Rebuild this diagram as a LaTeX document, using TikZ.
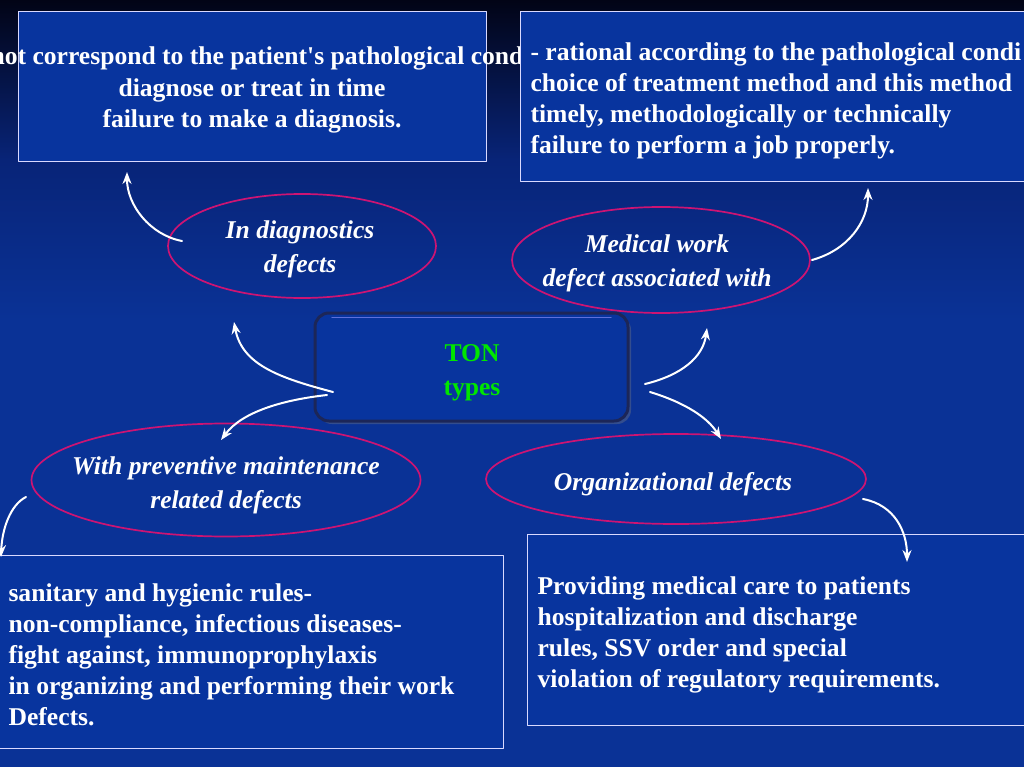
\documentclass[tikz,border=0pt]{standalone}
\usepackage{fontspec}
\setmainfont{Liberation Serif}
\usetikzlibrary{arrows.meta,shapes.geometric,shadows}

\definecolor{navy}{RGB}{2,4,22}
\definecolor{deepblue}{RGB}{8,36,120}
\definecolor{slideblue}{RGB}{10,50,150}
\definecolor{boxblue}{RGB}{8,52,158}
\definecolor{rimred}{RGB}{205,20,115}
\definecolor{rimdark}{RGB}{28,38,88}
\definecolor{tongreen}{RGB}{0,230,0}

\tikzset{
  txtbox/.style={draw=white!85!blue,line width=1pt,fill=boxblue,inner sep=0pt,anchor=north west},
  defect/.style={ellipse,draw=rimred,line width=1.7pt,inner sep=0pt},
  defecttext/.style={align=center,font=\fontsize{25.6}{34}\selectfont\bfseries\itshape},
  conn/.style={->,white,line width=2pt},
}

\begin{document}
\begin{tikzpicture}[x=1pt,y=-1pt,>={Stealth[length=12pt,width=9pt]},line cap=round,line join=round,
  font=\fontsize{25.6}{31}\selectfont\bfseries,text=white]
\useasboundingbox (0,0) rectangle (1024,767);
\shade[top color=navy,bottom color=deepblue] (0,0) rectangle (1024,160);
\shade[top color=deepblue,bottom color=slideblue] (0,160) rectangle (1024,320);
\fill[slideblue] (0,320) rectangle (1024,767);

% text boxes (base anchor = last line)
\node[txtbox,minimum width=468,minimum height=150] (tlbox) at (18,11) {};
\node[anchor=base east] (tlfirst) at (527,65) {not correspond to the patient\textquotesingle s pathological cond};
\node[anchor=base,align=center] (tltext) at (252,128) {diagnose or treat in time\\failure to make a diagnosis.};
\node[txtbox,minimum width=515,minimum height=170] (trbox) at (520,11) {};
\node[anchor=base west,align=left] (trtext) at (527,154) {- rational according to the pathological condi\\choice of treatment method and this method\\timely, methodologically or technically\\failure to perform a job properly.};
\node[txtbox,minimum width=510,minimum height=193] (blbox) at (-7,555) {};
\node[anchor=base west,align=left] (bltext) at (5,725) {sanitary and hygienic rules-\\non-compliance, infectious diseases-\\fight against, immunoprophylaxis\\in organizing and performing their work\\Defects.};
\node[txtbox,minimum width=510,minimum height=191] (brbox) at (527,534) {};
\node[anchor=base west,align=left] (brtext) at (534,687) {Providing medical care to patients\\hospitalization and discharge\\rules, SSV order and special\\violation of regulatory requirements.};

% defect ellipses
\node[defect,minimum width=268,minimum height=104] (diag) at (302,246) {};
\node[defecttext] (diagtxt) at (300,249) {In diagnostics\\defects};
\node[defect,minimum width=298,minimum height=106] (work) at (661,260) {};
\node[defecttext] (worktxt) at (657,263) {Medical work\\defect associated with};
\node[defect,minimum width=389,minimum height=113] (prev) at (226,480) {};
\node[defecttext] (prevtxt) at (226,485) {With preventive maintenance\\related defects};
\node[defect,minimum width=380,minimum height=90] (org) at (676,479) {};
\node[defecttext] (orgtxt) at (673,484) {Organizational defects};

% centre
\node[rounded corners=14pt,draw=rimdark,line width=3pt,fill=boxblue,minimum width=313,minimum height=108,
  drop shadow={opacity=0.35,shadow xshift=3pt,shadow yshift=-3pt}] (ton) at (471.5,367) {};
\draw[blue!40!white,line width=1.2pt,opacity=0.6] (332,317.5) -- (611,317.5);
\node[align=center,text=tongreen,font=\fontsize{25.6}{34}\selectfont\bfseries] (tontxt) at (472,373) {TON\\types};

% connector ends
\coordinate (d1) at (182,241);
\coordinate (d2) at (127,172);
\coordinate (w1) at (812,260);
\coordinate (w2) at (868,188);
\coordinate (c1) at (333,392);
\coordinate (c2) at (234,322);
\coordinate (c3) at (327,395);
\coordinate (c4) at (221,440);
\coordinate (c5) at (645,384);
\coordinate (c6) at (707,328);
\coordinate (c7) at (650,392);
\coordinate (c8) at (721,439);
\coordinate (o1) at (863,499);
\coordinate (o2) at (907,562);
\coordinate (p1) at (26,497);
\coordinate (p2) at (1,557);

\draw[conn] (d1) .. controls (150,235) and (127,205) .. (d2);
\draw[conn] (w1) .. controls (848,250) and (868,222) .. (w2);
\draw[conn] (c1) .. controls (280,378) and (242,365) .. (c2);
\draw[conn] (c3) .. controls (282,400) and (242,412) .. (c4);
\draw[conn] (c5) .. controls (682,375) and (703,357) .. (c6);
\draw[conn] (c7) .. controls (686,403) and (708,418) .. (c8);
\draw[conn] (o1) .. controls (895,505) and (907,532) .. (o2);
\draw[conn] (p1) .. controls (10,505) and (2,530) .. (p2);
\end{tikzpicture}
\end{document}
